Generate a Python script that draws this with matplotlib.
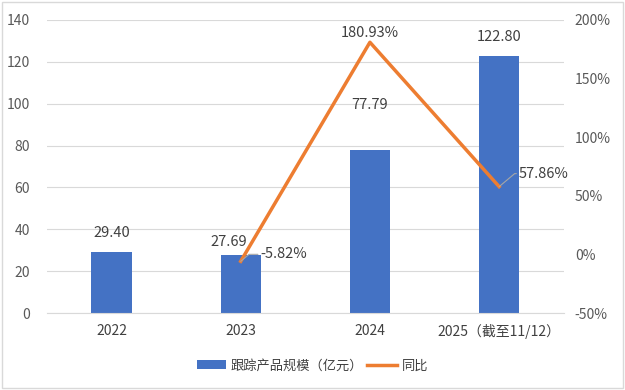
import matplotlib as mpl
mpl.use('Agg')
from matplotlib import pyplot as plt
from matplotlib.patches import Rectangle

plt.rcParams['font.family'] = ['Noto Sans CJK SC', 'DejaVu Sans']

# data
years = ['2022', '2023', '2024', '2025（截至11/12）']
scale = [29.40, 27.69, 77.79, 122.80]
yoy_years = ['2023', '2024', '2025（截至11/12）']
yoy = [-5.82, 180.93, 57.86]

bar_color = '#4472C4'
line_color = '#ED7D31'
txt = '#404040'
tick_c = '#595959'

fig = plt.figure(figsize=(6.25, 3.9), dpi=100)
ax = fig.add_axes([0.075, 0.197, 0.827, 0.752])
ax2 = ax.twinx()

x = list(range(len(years)))
bars = ax.bar(x, scale, width=0.31, color=bar_color, zorder=2, label='跟踪产品规模（亿元）')
xi = [years.index(y) for y in yoy_years]
ln, = ax2.plot(xi, yoy, color=line_color, lw=2.5, zorder=3, label='同比')

ax.set_xlim(-0.5, len(years) - 0.5)
ax.set_ylim(0, 140)
ax.set_yticks(range(0, 141, 20))
ax2.set_ylim(-50, 200)
ax2.set_yticks(range(-50, 201, 50))
ax2.set_yticklabels([f'{v}%' for v in range(-50, 201, 50)])

ax.set_xticks(x)
ax.set_xticklabels(years)
ax.grid(axis='y', color='#D9D9D9', lw=0.8, zorder=0)
for a in (ax, ax2):
    for s in a.spines.values():
        s.set_visible(False)
    a.tick_params(length=0, labelsize=10, colors=tick_c)
ax.spines['bottom'].set_visible(True)
ax.spines['bottom'].set_color('#D9D9D9')
ax.tick_params(axis='x', pad=8, labelcolor=txt)
ax.tick_params(axis='y', pad=12)
ax2.tick_params(axis='y', pad=8)

# bar labels
bar_offsets = [(0, 12), (-12, 6), (0, 38), (0, 12)]
for i, v in enumerate(scale):
    dx, dy = bar_offsets[i]
    ax.annotate(f'{v:.2f}', (i, v), xytext=(dx, dy), textcoords='offset pixels',
                ha='center', va='bottom', fontsize=10.5, color=txt, zorder=5)

# line labels
ax2.annotate(f'{yoy[1]:.2f}%', (xi[1], yoy[1]), xytext=(0, 2), textcoords='offset pixels',
             ha='center', va='bottom', fontsize=10.5, color=txt)
ax2.annotate(f'{yoy[0]:.2f}%', (xi[0], yoy[0]), xytext=(20, 7), textcoords='offset pixels',
             ha='left', va='center', fontsize=10.5, color=txt,
             arrowprops=dict(arrowstyle='-', color='#A6A6A6', lw=0.8, shrinkA=0, shrinkB=0,
                             connectionstyle='angle,angleA=0,angleB=40,rad=0'))
ax2.annotate(f'{yoy[2]:.2f}%', (xi[2], yoy[2]), xytext=(20, 13), textcoords='offset pixels',
             ha='left', va='center', fontsize=10.5, color=txt,
             arrowprops=dict(arrowstyle='-', color='#A6A6A6', lw=0.8, shrinkA=0, shrinkB=0,
                             connectionstyle='angle,angleA=0,angleB=40,rad=0'))

fig.legend([bars, ln], ['跟踪产品规模（亿元）', '同比'], loc='center', bbox_to_anchor=(0.5, 0.062),
           ncol=2, frameon=False, fontsize=9.5, labelcolor=txt, handlelength=2.2,
           columnspacing=0.3, handletextpad=0.4)

fig.patches.append(Rectangle((0.003, 0.004), 0.994, 0.992, transform=fig.transFigure,
                             fill=False, edgecolor='#D9D9D9', lw=1))

fig.savefig('out.png', dpi=100)
